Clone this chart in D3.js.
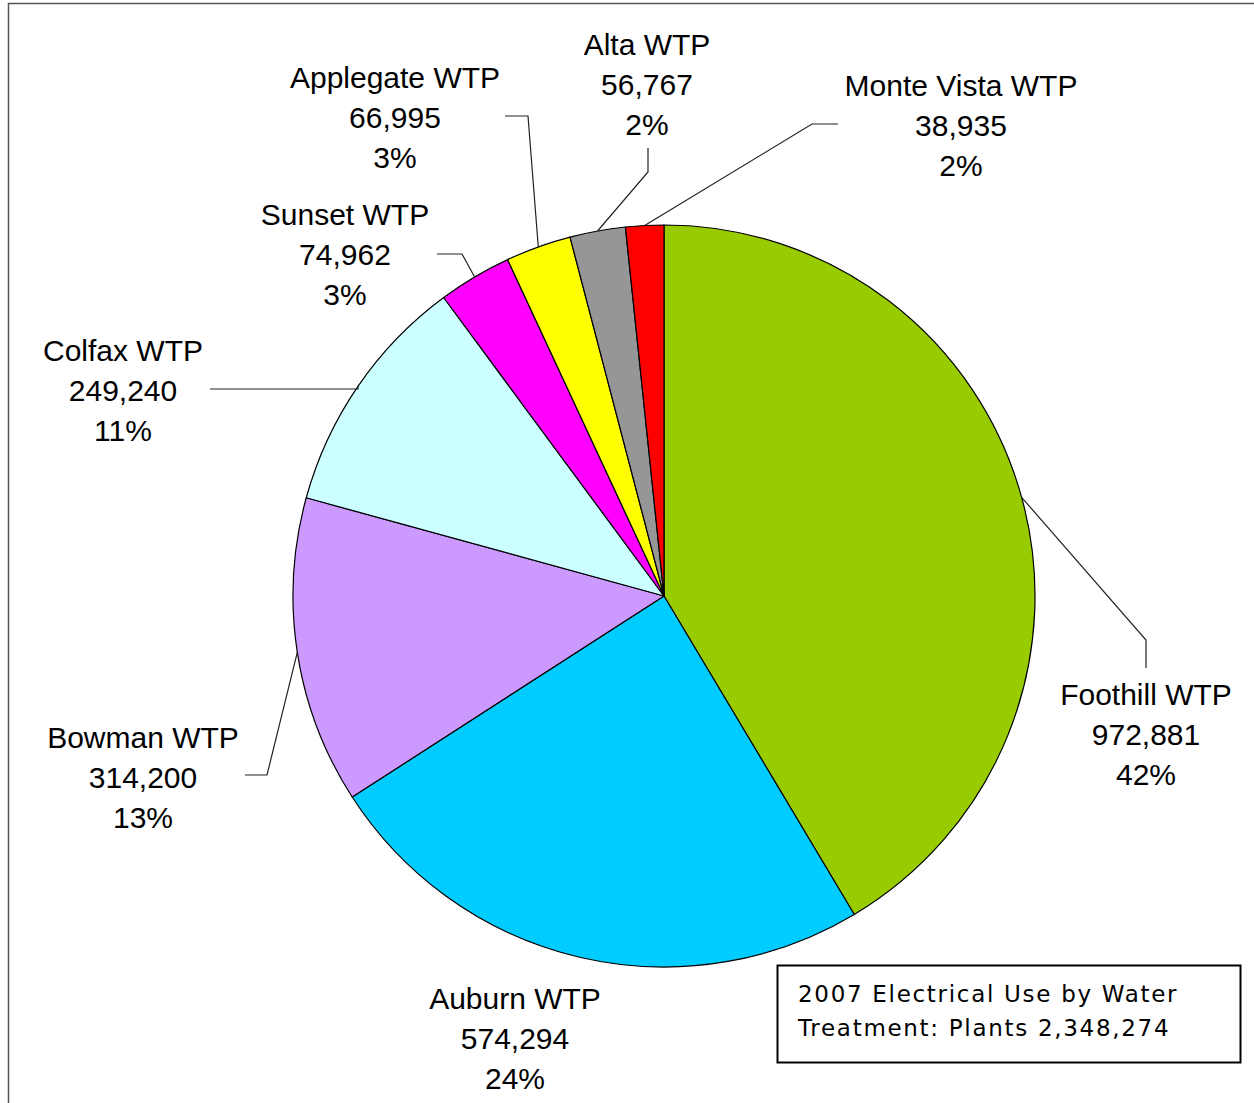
<!DOCTYPE html>
<html>
<head>
<meta charset="utf-8">
<script src="https://cdn.jsdelivr.net/npm/d3@7"></script>
<style>
  body { margin: 0; background: #fff; }
  text { font-family: "Liberation Sans", Arial, sans-serif; fill: #000; }
</style>
</head>
<body>
<script>
// data
var plants = ["Foothill WTP", "Auburn WTP", "Bowman WTP", "Colfax WTP",
              "Sunset WTP", "Applegate WTP", "Alta WTP", "Monte Vista WTP"];
var usage = [972881, 574294, 314200, 249240, 74962, 66995, 56767, 38935];
var pctLabels = ["42%", "24%", "13%", "11%", "3%", "3%", "2%", "2%"];
var colors = ["#99cc00", "#00ccff", "#cc99ff", "#ccffff",
              "#ff00ff", "#ffff00", "#969696", "#ff0000"];
var titleLines = ["2007 Electrical Use by Water", "Treatment: Plants 2,348,274"];

// label placement (first line baseline) and leader line elbows
var labelPos = [[1146, 705], [515, 1009], [143, 748], [123, 361],
                [345, 225], [395, 88], [647, 55], [961, 96]];
var leaders = [
  [[1146, 640], [1146, 668]],
  null,
  [[267, 775], [245, 775]],
  [[358, 389], [210, 389]],
  [[462, 254], [437, 254]],
  [[528, 116], [505, 116]],
  [[648, 172], [648, 148]],
  [[812, 124], [838, 124]]
];

var width = 1254, height = 1103,
    cx = 664, cy = 596, radius = 371;

var fmt = d3.format(",");

var svg = d3.select("body").append("svg")
    .attr("width", width)
    .attr("height", height);

// outer frame
svg.append("rect")
    .attr("x", 8.5).attr("y", 3.5)
    .attr("width", 1270).attr("height", 1120)
    .attr("fill", "none")
    .attr("stroke", "#555")
    .attr("stroke-width", 1.5);

var pie = d3.pie().sort(null).value(function(d) { return d; });
var arcs = pie(usage);

var arc = d3.arc().innerRadius(0).outerRadius(radius);
var edge = d3.arc().innerRadius(radius).outerRadius(radius);

var g = svg.append("g")
    .attr("transform", "translate(" + cx + "," + cy + ")");

g.selectAll("path.slice")
    .data(arcs)
  .enter().append("path")
    .attr("class", "slice")
    .attr("d", arc)
    .attr("fill", function(d, i) { return colors[i]; })
    .attr("stroke", "#000")
    .attr("stroke-width", 1.2)
    .attr("stroke-linejoin", "round");

// leader lines
var line = d3.line();
arcs.forEach(function(d, i) {
  if (!leaders[i]) return;
  var c = edge.centroid(d);
  var pts = [[c[0] + cx, c[1] + cy]].concat(leaders[i]);
  svg.append("path")
      .attr("d", line(pts))
      .attr("fill", "none")
      .attr("stroke", "#222")
      .attr("stroke-width", 1.2);
});

// labels
plants.forEach(function(name, i) {
  var t = svg.append("text")
      .attr("text-anchor", "middle")
      .style("font-size", "30px");
  [name, fmt(usage[i]), pctLabels[i]].forEach(function(s, k) {
    t.append("tspan")
        .attr("x", labelPos[i][0])
        .attr("y", labelPos[i][1] + k * 40)
        .text(s);
  });
});

// title box
svg.append("rect")
    .attr("x", 777.5).attr("y", 965.5)
    .attr("width", 463).attr("height", 97)
    .attr("fill", "#fff")
    .attr("stroke", "#000")
    .attr("stroke-width", 2);

titleLines.forEach(function(s, k) {
  svg.append("text")
      .attr("x", 798)
      .attr("y", 1002 + k * 34)
      .style("font-family", "'DejaVu Sans', Verdana, sans-serif")
      .style("font-size", "23px")
      .style("letter-spacing", "1.7px")
      .text(s);
});
</script>
</body>
</html>
